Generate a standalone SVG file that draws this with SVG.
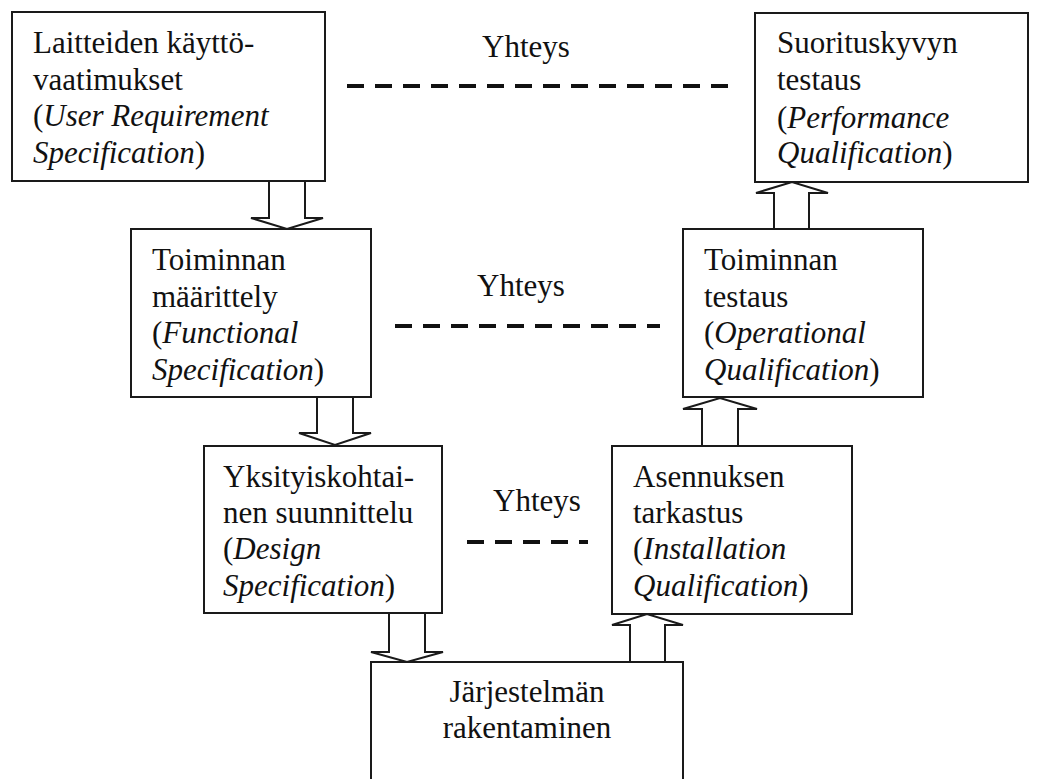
<svg xmlns="http://www.w3.org/2000/svg" width="1040" height="779" viewBox="0 0 1040 779">
<style>
.box{fill:#fff;stroke:#1a1a1a;stroke-width:2}
.arr{fill:#fff;stroke:#1a1a1a;stroke-width:2;stroke-linejoin:miter}
.dash{stroke:#111;stroke-width:4;stroke-dasharray:17 11;fill:none}
text{font-family:"Liberation Serif","Times New Roman",serif;font-size:31px;fill:#111}
.i{font-style:italic}
</style>
<rect width="1040" height="779" fill="#fff"/>
<g id="connectors">
<line class="dash" x1="347" y1="86" x2="728" y2="86"/>
<line class="dash" x1="395" y1="326" x2="660" y2="326"/>
<line class="dash" x1="467" y1="542" x2="588" y2="542"/>
<text x="482" y="57">Yhteys</text>
<text x="477" y="296">Yhteys</text>
<text x="493" y="511">Yhteys</text>
<polygon class="arr" points="269,181 305,181 305,218 323,218 287,229 251,218 269,218"/>
<polygon class="arr" points="317,397 353,397 353,433 371,433 335,445 299,433 317,433"/>
<polygon class="arr" points="389,613 425,613 425,652 443,652 407,662 371,652 389,652"/>
<polygon class="arr" points="630,662 665,662 665,625 683,625 647,614 612,625 630,625"/>
<polygon class="arr" points="702,446 738,446 738,409 757,409 720,398 683,409 702,409"/>
<polygon class="arr" points="774,229 809,229 809,193 828,193 792,182 756,193 774,193"/>
</g>
<g id="urs">
<rect class="box" x="12" y="12" width="313" height="169"/>
<text x="33" y="53">Laitteiden käyttö-</text>
<text x="33" y="90">vaatimukset</text>
<text x="33" y="126">(<tspan class="i">User Requirement</tspan></text>
<text x="33" y="163"><tspan class="i">Specification</tspan>)</text>
</g>
<g id="fs">
<rect class="box" x="131" y="229" width="240" height="168"/>
<text x="152" y="270">Toiminnan</text>
<text x="152" y="307">määrittely</text>
<text x="152" y="343">(<tspan class="i">Functional</tspan></text>
<text x="152" y="380"><tspan class="i">Specification</tspan>)</text>
</g>
<g id="ds">
<rect class="box" x="204" y="446" width="238" height="167"/>
<text x="223" y="487">Yksityiskohtai-</text>
<text x="223" y="523">nen suunnittelu</text>
<text x="223" y="559">(<tspan class="i">Design</tspan></text>
<text x="223" y="596"><tspan class="i">Specification</tspan>)</text>
</g>
<g id="build">
<rect class="box" x="371" y="662" width="312" height="130"/>
<text x="527" y="702" text-anchor="middle">Järjestelmän</text>
<text x="527" y="738" text-anchor="middle">rakentaminen</text>
</g>
<g id="iq">
<rect class="box" x="612" y="446" width="240" height="168"/>
<text x="633" y="487">Asennuksen</text>
<text x="633" y="523">tarkastus</text>
<text x="633" y="559">(<tspan class="i">Installation</tspan></text>
<text x="633" y="596"><tspan class="i">Qualification</tspan>)</text>
</g>
<g id="oq">
<rect class="box" x="683" y="229" width="240" height="168"/>
<text x="704" y="270">Toiminnan</text>
<text x="704" y="307">testaus</text>
<text x="704" y="343">(<tspan class="i">Operational</tspan></text>
<text x="704" y="380"><tspan class="i">Qualification</tspan>)</text>
</g>
<g id="pq">
<rect class="box" x="755" y="13" width="273" height="169"/>
<text x="777" y="53">Suorituskyvyn</text>
<text x="777" y="90">testaus</text>
<text x="777" y="128">(<tspan class="i">Performance</tspan></text>
<text x="777" y="163"><tspan class="i">Qualification</tspan>)</text>
</g>
</svg>
